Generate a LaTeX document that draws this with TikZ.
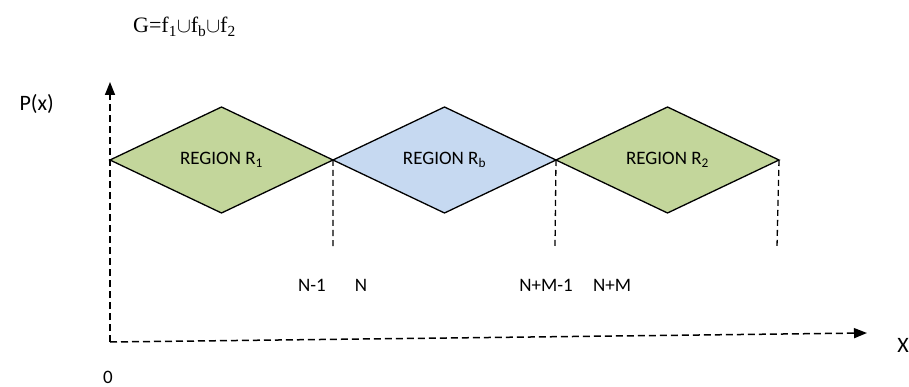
\documentclass[tikz,border=0pt]{standalone}
\usepackage{fontspec}
\setmainfont{Carlito}
\newfontfamily\timesfont{Liberation Serif}
\usetikzlibrary{shapes.geometric,positioning,arrows.meta}
\definecolor{regiongreen}{HTML}{C3D69B}
\definecolor{regionblue}{HTML}{C6D9F1}
\tikzset{
	region/.style={diamond,draw,line width=1.3pt,minimum width=223pt,minimum height=106pt,inner sep=0pt,outer sep=0pt,font=\fontsize{19}{21}\selectfont},
	axis/.style={line width=1.5pt,dash pattern=on 7pt off 4pt,-{Triangle[length=13pt,width=10pt]}},
	tick/.style={line width=1.3pt,dash pattern=on 6pt off 4pt},
	lbl/.style={font=\fontsize{19}{21}\selectfont,inner sep=0pt},
	axlbl/.style={font=\fontsize{22}{24}\selectfont,inner sep=0pt}
}
\begin{document}
\begin{tikzpicture}[x=1pt,y=-1pt]
	\useasboundingbox (0,0) rectangle (909,387);
	\node[region,fill=regiongreen] (r1) at (221.5,160) {REGION R\textsubscript{1}};
	\node[region,fill=regionblue,right=0pt of r1] (rb) {REGION R\textsubscript{b}};
	\node[region,fill=regiongreen,right=0pt of rb] (r2) {REGION R\textsubscript{2}};
	\coordinate (o) at (110,342);
	\coordinate (ytip) at (110,82);
	\coordinate (xtip) at (867,333);
	\coordinate (t1) at (333,247);
	\coordinate (t2) at (555,247);
	\coordinate (t3) at (777,247);
	\draw[axis] (o) -- (ytip);
	\draw[axis] (o) -- (xtip);
	\draw[tick] (r1.east) -- (t1) (rb.east) -- (t2) (r2.east) -- (t3);
	\node[axlbl,anchor=east] (px) at (54,104) {P(x)};
	\node[axlbl] (xl) at (903,345) {X};
	\node[lbl] (zero) at (108,377) {0};
	\node[lbl] (nm1) at (312,285) {N-1};
	\node[lbl] (n) at (361,285) {N};
	\node[lbl] (nmm1) at (546,285) {N+M-1};
	\node[lbl] (nm) at (612,285) {N+M};
	\node[anchor=base west,inner sep=0pt,font=\timesfont\fontsize{22}{24}\selectfont] (g) at (133,33) {G=f\textsubscript{1}$\cup$f\textsubscript{b}$\cup$f\textsubscript{2}};
\end{tikzpicture}
\end{document}
